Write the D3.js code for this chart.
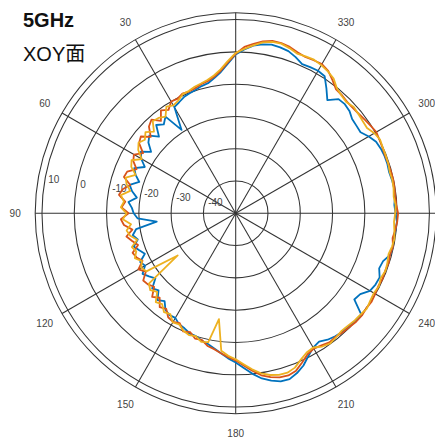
<!DOCTYPE html>
<html>
<head>
<meta charset="utf-8">
<script src="https://cdn.jsdelivr.net/npm/d3@7"></script>
<style>
  html, body { margin: 0; padding: 0; background: #fff; }
  svg { display: block; }
</style>
</head>
<body>
<svg id="chart" width="435" height="446"></svg>
<script>
// ---------- data ----------
const angles = d3.range(0, 360, 3); // degrees, counter-clockwise from top
const ringValues = [-40, -30, -20, -10, 0, 10];
const angleTicks = [30, 60, 90, 120, 150, 180, 210, 240, 300, 330];
const spokeAngles = [0, 30, 60, 90, 120, 150];
const titleLines = ["5GHz", "XOY面"];

const blueSeries = [
  -0.8, -3.6, -6.0, -7.6, -8.8, -9.2, -9.8, -10.2, -10.6, -11.4,
  -12.0, -19.2, -13.0, -14.6, -13.2, -16.4, -14.0, -15.2, -17.6, -15.0,
  -16.2, -18.4, -15.6, -16.8, -18.6, -16.0, -17.2, -19.0, -16.6, -17.8,
  -18.4, -19.6, -25.4, -18.8, -17.4, -18.6, -16.8, -18.0, -19.2, -16.8,
  -17.6, -15.6, -16.8, -18.0, -15.2, -16.2, -13.8, -15.0, -13.0, -12.4,
  -12.6, -11.4, -11.0, -10.2, -10.0, -9.2, -8.6, -7.6, -6.4, -5.0,
  -3.8, -2.0, 0.0, 1.8, 3.0, 3.9, 4.0, 3.0, 1.6, -0.4,
  -2.0, -2.6, -1.6, -1.0, -0.6, -0.4, -0.2, 0.2, -4.6, -4.0,
  -2.0, -1.4, -1.2, -2.4, -2.0, -0.4, -0.2, -0.6, -0.2, 0.0,
  -0.5, -0.8, -0.4, -0.3, -0.5, -0.8, -0.6, -0.6, -0.8, -1.2,
  -2.4, -3.9, -3.8, -3.6, -2.6, -2.2, -2.4, -4.9, -2.2, 0.6,
  1.0, 0.8, 0.6, 1.8, 2.8, 3.2, 3.4, 3.0, 2.2, 0.8
];
const redSeries = [
  -0.6, -3.2, -5.6, -7.2, -8.2, -8.6, -9.3, -9.6, -9.4, -10.2,
  -10.0, -11.8, -10.6, -13.2, -11.0, -12.0, -14.6, -12.2, -13.0, -15.8,
  -13.6, -14.4, -16.4, -14.0, -13.6, -16.2, -14.2, -13.4, -15.6, -14.6,
  -16.8, -14.4, -15.2, -17.6, -15.4, -16.8, -18.2, -15.8, -16.4, -17.6,
  -15.2, -16.8, -14.6, -15.0, -16.0, -13.4, -14.8, -12.6, -13.4, -11.6,
  -11.2, -11.8, -10.0, -10.6, -9.2, -9.4, -8.0, -7.4, -6.4, -5.4,
  -4.4, -2.8, -1.0, 0.8, 1.9, 2.6, 2.8, 2.2, 0.6, -1.0,
  -1.6, -1.2, -0.6, -0.8, -0.4, -0.2, 0.2, 0.3, 0.0, 0.2,
  -0.1, -0.4, -0.2, -0.4, -0.2, -0.5, -0.2, -0.8, -0.3, 0.1,
  0.3, -0.2, -0.3, -0.2, -0.1, -0.2, -0.3, -0.4, -0.2, 0.0,
  0.3, -0.2, -0.6, -1.0, -1.2, -1.2, -0.8, -0.6, 1.0, 2.6,
  3.4, 3.2, 3.0, 3.4, 4.2, 4.6, 4.6, 3.9, 2.8, 1.6
];
const yellowSeries = [
  -0.3, -2.8, -5.2, -6.8, -7.8, -8.4, -8.8, -9.4, -9.6, -10.8,
  -11.4, -10.6, -13.0, -12.0, -11.6, -14.2, -12.4, -13.8, -12.8, -14.0,
  -16.4, -13.8, -14.6, -16.8, -14.2, -15.0, -16.6, -14.0, -15.2, -14.4,
  -16.2, -15.0, -17.4, -15.8, -16.6, -18.4, -16.2, -17.0, -15.8, -17.4,
  -16.2, -17.0, -27.8, -15.4, -14.4, -15.6, -13.0, -13.8, -12.2, -12.8,
  -11.0, -11.4, -10.2, -9.6, -10.0, -8.8, -9.2, -16.8, -7.2, -5.8,
  -4.8, -3.2, -1.4, 0.2, 1.2, 1.8, 1.9, 1.2, -0.4, -1.6,
  -2.0, -0.8, -0.2, -0.6, -1.0, -0.8, -0.4, -0.2, 0.2, -0.3,
  -0.6, -0.2, -0.8, -0.3, -0.6, -1.0, -0.5, -0.2, -0.6, -0.9,
  -0.6, -0.4, -0.8, -0.5, -0.4, -0.6, -0.3, -0.2, -0.1, 0.2,
  -0.4, -1.5, -1.4, -1.1, -0.8, -1.4, -1.0, -0.2, 1.6, 2.4,
  3.0, 3.4, 3.2, 3.0, 3.8, 4.4, 4.3, 3.6, 2.3, 1.0
];
const seriesColors = ["#0072BD", "#D95319", "#EDB120"];

// ---------- layout ----------
const cx = 235.7, cy = 213.3, rMax = 200.5;
const svg = d3.select("#chart");
const r = d3.scaleLinear().domain([-50, 12.1]).range([0, rMax]);
const toRad = d => d * Math.PI / 180;
// position for angle theta (deg, CCW from top) at radius rad
const px = (theta, rad) => cx - rad * Math.sin(toRad(theta));
const py = (theta, rad) => cy - rad * Math.cos(toRad(theta));

const g = svg.append("g");
const gridColor = "#333";
const gridW = 1.05;

// rings
g.selectAll("circle.ring").data(ringValues).join("circle")
  .attr("class", "ring")
  .attr("cx", cx).attr("cy", cy).attr("r", d => r(d))
  .attr("fill", "none").attr("stroke", gridColor).attr("stroke-width", gridW);
g.append("circle").attr("cx", cx).attr("cy", cy).attr("r", rMax)
  .attr("fill", "none").attr("stroke", gridColor).attr("stroke-width", gridW);

// spokes
g.selectAll("line.spoke").data(spokeAngles).join("line")
  .attr("class", "spoke")
  .attr("x1", d => px(d, rMax)).attr("y1", d => py(d, rMax))
  .attr("x2", d => px(d + 180, rMax)).attr("y2", d => py(d + 180, rMax))
  .attr("stroke", gridColor).attr("stroke-width", gridW);

// radial labels (MATLAB-style, just above the left horizontal)
const labA = 8 * Math.PI / 180;
g.selectAll("text.rlab").data(ringValues).join("text")
  .attr("class", "rlab")
  .attr("x", d => cx - (r(d) + 1.6) * Math.cos(labA) + 6)
  .attr("y", d => cy - (r(d) + 1.6) * Math.sin(labA) - 3)
  .attr("font-family", "Liberation Sans, Arial, sans-serif")
  .attr("font-size", 10).attr("fill", "#444")
  .text(d => d);

// angle labels
g.selectAll("text.alab").data(angleTicks).join("text")
  .attr("class", "alab")
  .attr("x", d => px(d, rMax * 1.1))
  .attr("y", d => py(d, rMax * 1.1))
  .attr("text-anchor", "middle").attr("dominant-baseline", "central")
  .attr("font-family", "Liberation Sans, Arial, sans-serif")
  .attr("font-size", 10).attr("fill", "#444")
  .text(d => d);

// data curves
const line = d3.lineRadial()
  .angle(d => -toRad(d[0]))
  .radius(d => r(d[1]))
  .curve(d3.curveLinearClosed);
const plotG = svg.append("g").attr("transform", `translate(${cx},${cy})`);
[blueSeries, redSeries, yellowSeries].forEach((s, i) => {
  plotG.append("path")
    .datum(angles.map((a, k) => [a, s[k]]))
    .attr("d", line)
    .attr("fill", "none")
    .attr("stroke", seriesColors[i])
    .attr("stroke-width", 1.8)
    .attr("stroke-linejoin", "round");
});

// titles
svg.append("text").attr("x", 23).attr("y", 27)
  .attr("font-family", "Liberation Sans, Arial, 'Noto Sans CJK SC', sans-serif")
  .attr("font-weight", "bold").attr("font-size", 20).attr("fill", "#111")
  .text(titleLines[0]);
svg.append("text").attr("x", 23).attr("y", 61)
  .attr("font-family", "Liberation Sans, Arial, 'Noto Sans CJK SC', sans-serif")
  .attr("font-size", 20).attr("fill", "#111")
  .text(titleLines[1]);
</script>
</body>
</html>
